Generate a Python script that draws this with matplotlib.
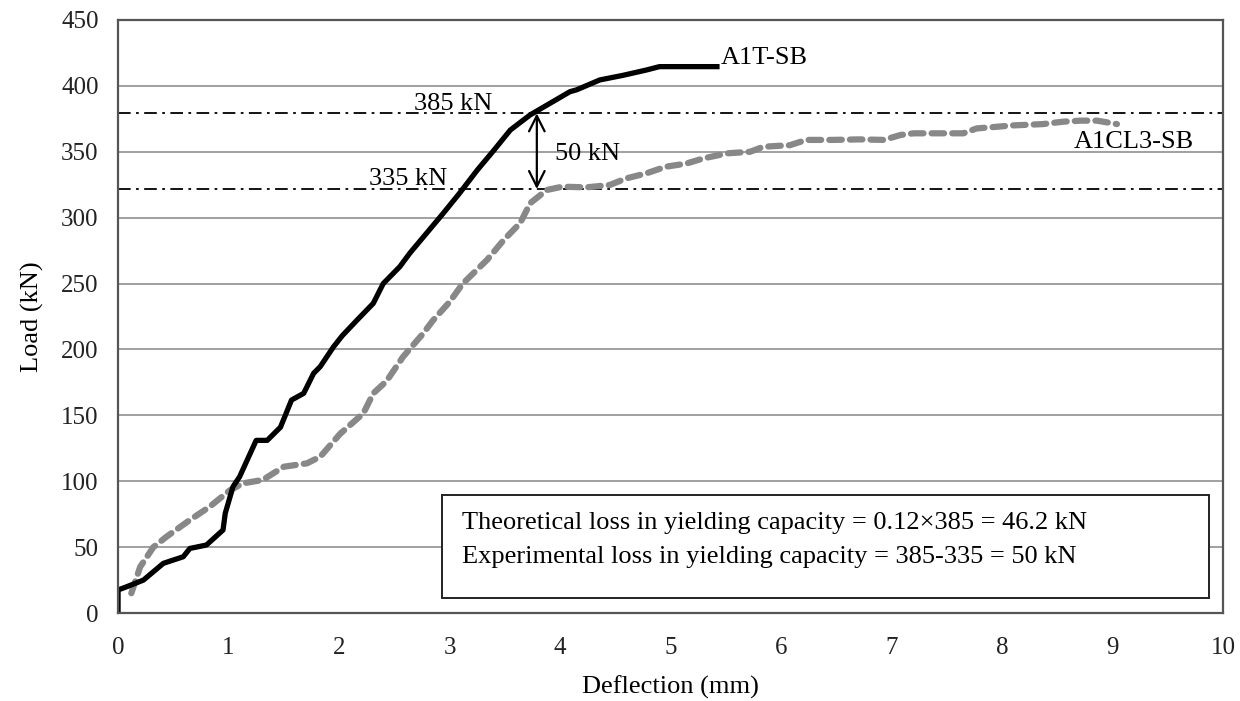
import numpy as np
import matplotlib.pyplot as plt
from matplotlib.patches import Rectangle

plt.rcParams['font.family'] = ['Liberation Serif', 'DejaVu Serif']

# A1T-SB (black solid)
a1t_x = [0.0, 0.0, 0.08, 0.23, 0.41, 0.59, 0.65, 0.80, 0.95, 0.97, 1.04, 1.10,
         1.25, 1.35, 1.47, 1.57, 1.68, 1.77, 1.83, 1.95, 2.03, 2.16, 2.31, 2.40,
         2.55, 2.64, 2.79, 2.94, 3.09, 3.25, 3.40, 3.55, 3.73, 3.91, 4.09, 4.15,
         4.36, 4.57, 4.78, 4.90, 5.42]
a1t_y = [0.0, 17.5, 20.0, 25.0, 37.7, 42.7, 49.0, 51.6, 63.0, 75.6, 95.8, 103.4,
         131.0, 131.0, 141.0, 161.6, 166.7, 181.9, 187.0, 202.0, 210.5, 222.0, 235.0, 250.0,
         262.8, 273.0, 288.0, 303.0, 318.5, 336.0, 351.0, 366.5, 378.0, 386.8, 395.6, 397.0,
         404.5, 408.0, 412.0, 414.6, 414.6]

# A1CL3-SB (grey dashed)
a1cl3_x = [0.12, 0.20, 0.32, 0.44, 0.65, 0.83, 1.01, 1.13, 1.31, 1.50, 1.71, 1.83,
           2.01, 2.22, 2.31, 2.43, 2.58, 2.76, 2.85, 3.00, 3.12, 3.34, 3.49, 3.64,
           3.73, 3.88, 4.02, 4.24, 4.45, 4.60, 4.78, 4.96, 5.14, 5.30, 5.51, 5.72,
           5.84, 6.08, 6.23, 6.47, 6.71, 6.93, 7.08, 7.20, 7.65, 7.77, 8.10, 8.37,
           8.55, 8.71, 8.86, 9.04]
a1cl3_y = [15.0, 35.0, 50.0, 58.0, 70.6, 80.7, 93.0, 98.4, 101.0, 111.0, 113.6, 118.6,
           136.0, 151.5, 166.7, 176.0, 194.5, 212.0, 222.0, 236.0, 250.0, 268.0, 283.0, 296.0,
           311.0, 321.0, 323.5, 323.0, 324.8, 329.8, 333.6, 338.7, 341.0, 345.0, 348.8, 350.0,
           353.8, 355.0, 359.0, 359.0, 359.4, 359.0, 362.7, 364.0, 364.0, 367.7, 370.0, 371.0,
           372.8, 373.6, 373.6, 371.0]

yield_a1t = 379.2
yield_a1cl3 = 321.7

fig = plt.figure(figsize=(12.4, 7.01), dpi=100)
ax = fig.add_axes([0.0952, 0.1255, 0.8911, 0.846])

ax.set_xlim(0, 10)
ax.set_ylim(0, 450)
ax.set_xticks(np.arange(0, 11, 1))
ax.set_yticks(np.arange(0, 451, 50))
ax.tick_params(length=0, labelsize=18, colors='#222222')
ax.tick_params(axis='x', pad=17)
ax.tick_params(axis='y', pad=14)
ax.yaxis.grid(True, color='#a0a0a0', linewidth=1.4)
ax.set_axisbelow(True)
for s in ax.spines.values():
    s.set_color('#555555')
    s.set_linewidth(1.6)

# yield levels
ax.axhline(yield_a1t, color='black', lw=1.3, linestyle=(0, (7, 3, 1.5, 3)))
ax.axhline(yield_a1cl3, color='black', lw=1.3, linestyle=(0, (7, 3, 1.5, 3)))

ax.plot(a1cl3_x, a1cl3_y, color='#888888', lw=4.5, linestyle=(0, (2.0, 1.3)),
        dash_capstyle='round', solid_capstyle='round')
ax.plot(a1t_x, a1t_y, color='black', lw=3.8, solid_joinstyle='round')

ax.annotate('', xy=(3.79, yield_a1t), xytext=(3.79, yield_a1cl3),
            arrowprops=dict(arrowstyle='<->', color='black', lw=1.6,
                            mutation_scale=28, shrinkA=0, shrinkB=0))

ax.text(3.39, 381.5, '385 kN', ha='right', va='baseline', fontsize=19)
ax.text(2.98, 325, '335 kN', ha='right', va='baseline', fontsize=19)
ax.text(3.95, 348, '50 kN', ha='left', va='center', fontsize=19)
ax.text(5.45, 421.5, 'A1T-SB', ha='left', va='center', fontsize=19)
ax.text(8.65, 357.7, 'A1CL3-SB', ha='left', va='center', fontsize=19)

ax.add_patch(Rectangle((0.2932, 0.0253), 0.6941, 0.1737, transform=ax.transAxes,
                       facecolor='white', edgecolor='#222222', lw=1.4, zorder=5))
ax.text(0.311, 0.152, 'Theoretical loss in yielding capacity = 0.12\u00d7385 = 46.2 kN',
        transform=ax.transAxes, ha='left', va='center', fontsize=19, zorder=6)
ax.text(0.311, 0.0944, 'Experimental loss in yielding capacity = 385-335 = 50 kN',
        transform=ax.transAxes, ha='left', va='center', fontsize=19, zorder=6)

ax.set_xlabel('Deflection (mm)', fontsize=19, labelpad=12)
ax.set_ylabel('Load (kN)', fontsize=19, labelpad=12)

fig.savefig('out.png', dpi=100)
